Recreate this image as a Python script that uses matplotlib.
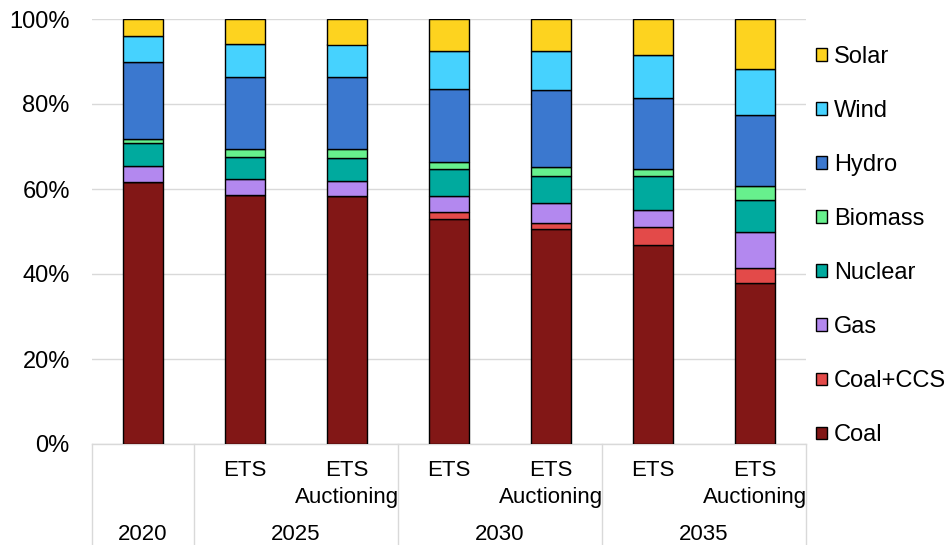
import matplotlib
matplotlib.use("Agg")
import matplotlib.pyplot as plt
from matplotlib.patches import Patch
import matplotlib.transforms as mtransforms
import numpy as np

plt.rcParams['font.family'] = ['Liberation Sans', 'DejaVu Sans']

years = ["2020", "2025", "2030", "2035"]
scenarios = ["", "ETS", "ETS\nAuctioning", "ETS", "ETS\nAuctioning", "ETS", "ETS\nAuctioning"]
year_groups = [(0, 0), (1, 2), (3, 4), (5, 6)]

series_names = ["Coal", "Coal+CCS", "Gas", "Nuclear", "Biomass", "Hydro", "Wind", "Solar"]
coal     = [61.6, 58.7, 58.4, 52.9, 50.5, 46.9, 37.9]
coal_ccs = [0.0, 0.0, 0.0, 1.6, 1.4, 4.2, 3.4]
gas      = [3.9, 3.6, 3.6, 3.9, 4.7, 4.0, 8.5]
nuclear  = [5.3, 5.3, 5.2, 6.4, 6.5, 8.0, 7.7]
biomass  = [1.0, 1.7, 2.1, 1.6, 2.1, 1.6, 3.2]
hydro    = [18.2, 17.1, 17.1, 17.1, 18.1, 16.6, 16.7]
wind     = [6.1, 7.7, 7.6, 9.0, 9.1, 10.3, 10.9]
solar    = [3.9, 5.9, 6.0, 7.5, 7.6, 8.4, 11.7]
colors = ["#821716", "#e34a49", "#b388ef", "#00aa9e", "#67f08d", "#3b78cf", "#46d2fe", "#fdd31f"]

data = [coal, coal_ccs, gas, nuclear, biomass, hydro, wind, solar]

fig = plt.figure(figsize=(9.49, 5.45), dpi=100)
ax = fig.add_axes([92/949, 101/545, 714/949, 425/545])

x = np.arange(len(scenarios))
bottom = np.zeros(len(scenarios))
for name, vals, c in zip(series_names, data, colors):
    vals = np.array(vals)
    ax.bar(x, vals, 0.4, bottom=bottom, color=c, edgecolor="black", linewidth=1.0, zorder=3, label=name)
    bottom += vals

ax.set_xlim(-0.5, 6.5)
ax.set_ylim(0, 100)
ax.set_yticks(np.arange(0, 101, 20))
ax.set_yticklabels([f"{v}%" for v in range(0, 101, 20)])
ax.tick_params(axis='y', length=0, pad=16, labelsize=17)
ax.tick_params(axis='x', length=0, labelbottom=False)
ax.set_xticks([])
ax.grid(axis='y', color="#d9d9d9", linewidth=1.0, zorder=0)
for s in ["top", "right", "left"]:
    ax.spines[s].set_visible(False)
ax.spines["bottom"].set_color("#d9d9d9")
ax.spines["bottom"].set_linewidth(1.0)

trans = mtransforms.blended_transform_factory(ax.transData, ax.transAxes)
ybot = -101/425
for xv in [-0.5, 0.5, 2.5, 4.5, 6.5]:
    ax.plot([xv, xv], [0, ybot], transform=trans, color="#d9d9d9", lw=1.0, clip_on=False)

y_l1 = -(470-444)/425
y_l2 = -(497-444)/425
y_yr = -(535-444)/425
for i, s in enumerate(scenarios):
    if not s:
        continue
    lines = s.split("\n")
    ax.text(i, y_l1, lines[0], transform=trans, ha="center", va="center", fontsize=16)
    if len(lines) > 1:
        ax.text(i, y_l2, lines[1], transform=trans, ha="center", va="center", fontsize=16)
for yr, (a, b) in zip(years, year_groups):
    ax.text((a+b)/2, y_yr, yr, transform=trans, ha="center", va="center", fontsize=16)

handles = [Patch(facecolor=c, edgecolor="black", linewidth=1.0, label=n) for n, c in zip(series_names, colors)][::-1]
fig.legend(handles=handles, loc="center left", bbox_to_anchor=(816/949, 1-246/545),
           frameon=False, fontsize=17, labelspacing=1.36, handlelength=0.45, handleheight=0.45,
           handletextpad=0.3, borderpad=0, borderaxespad=0)

fig.savefig("out.png", dpi=100)
